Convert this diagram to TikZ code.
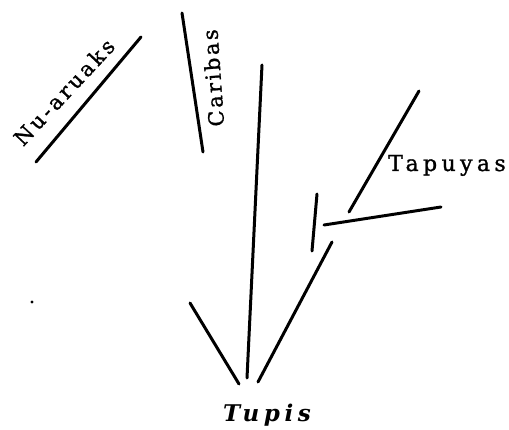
\documentclass[tikz,border=0pt]{standalone}
\usepackage{fontspec}
\setmainfont{DejaVu Serif}
\tikzset{
  branch/.style={line width=3pt, line cap=round, black},
  lbl/.style={inner sep=0pt},
}
\begin{document}
\begin{tikzpicture}[x=1pt,y=-1pt]
\useasboundingbox (0,0) rectangle (509,430);
% branches
\coordinate (nuA) at (36,162);  \coordinate (nuB) at (141,37);
\coordinate (caA) at (182,13);  \coordinate (caB) at (203,152);
\coordinate (ceA) at (262,65);  \coordinate (ceB) at (247,378);
\coordinate (leA) at (190,303); \coordinate (leB) at (239,384);
\coordinate (riA) at (332,242); \coordinate (riB) at (258,382);
\coordinate (veA) at (317,194); \coordinate (veB) at (312,251);
\coordinate (hoA) at (324,225); \coordinate (hoB) at (441,207);
\coordinate (taA) at (349,212); \coordinate (taB) at (419,91);
\draw[branch] (nuA) -- (nuB);
\draw[branch] (caA) -- (caB);
\draw[branch] (ceA) -- (ceB);
\draw[branch] (leA) -- (leB);
\draw[branch] (riA) -- (riB);
\draw[branch] (veA) -- (veB);
\draw[branch] (hoA) -- (hoB);
\draw[branch] (taA) -- (taB);
% labels
\node[lbl, rotate=47, font=\fontsize{21}{23}\selectfont\addfontfeature{LetterSpace=15,FakeBold=1.2}] (nu) at (64,92) {Nu-aruaks};
\node[lbl, rotate=94, font=\fontsize{21}{23}\selectfont\addfontfeature{LetterSpace=12,FakeBold=1.2}] (ca) at (213,78) {Caribas};
\node[lbl, anchor=base west, font=\fontsize{22}{24}\selectfont\addfontfeature{LetterSpace=20,FakeBold=1.2}] (ta) at (388,171) {Tapuyas};
\node[lbl, anchor=base, font=\fontsize{23}{25}\selectfont\bfseries\itshape\addfontfeature{LetterSpace=20}] (tu) at (267,421) {Tupis};
% speck
\fill (32,302) circle (1.6);
\end{tikzpicture}
\end{document}
